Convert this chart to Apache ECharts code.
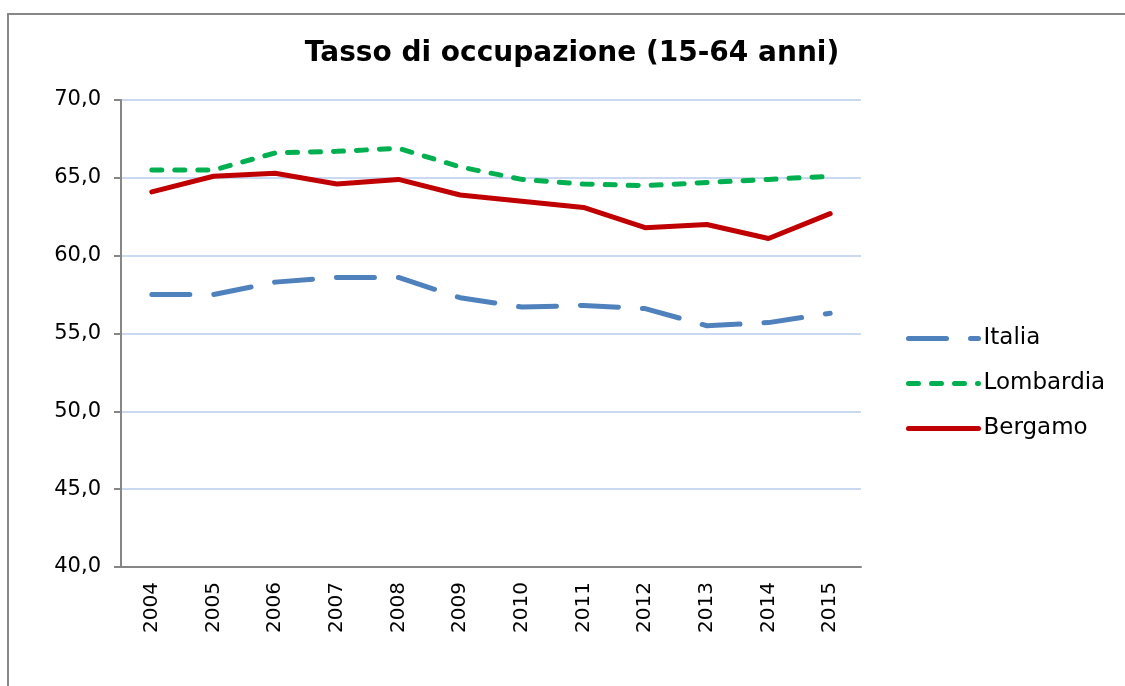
<!DOCTYPE html>
<html>
<head>
<meta charset="utf-8">
<title>Tasso di occupazione</title>
<script src="https://cdn.jsdelivr.net/npm/echarts@6/dist/echarts.min.js"></script>
<style>
  html, body { margin: 0; padding: 0; background: #fff; }
  #chart { width: 1125px; height: 686px; }
</style>
</head>
<body>
<div id="chart"></div>
<script>
var anni = ['2004', '2005', '2006', '2007', '2008', '2009', '2010', '2011', '2012', '2013', '2014', '2015'];
var italia = [57.5, 57.5, 58.3, 58.6, 58.6, 57.3, 56.7, 56.8, 56.6, 55.5, 55.7, 56.3];
var lombardia = [65.5, 65.5, 66.6, 66.7, 66.9, 65.7, 64.9, 64.6, 64.5, 64.7, 64.9, 65.1];
var bergamo = [64.1, 65.1, 65.3, 64.6, 64.9, 63.9, 63.5, 63.1, 61.8, 62.0, 61.1, 62.7];

var font = '"DejaVu Sans", Verdana, sans-serif';

var chart = echarts.init(document.getElementById('chart'));

function serie(nome, dati, colore, dash) {
    return {
        name: nome,
        type: 'line',
        data: dati,
        symbol: 'none',
        animation: false,
        lineStyle: {
            color: colore,
            width: 5,
            type: dash,
            cap: 'round'
        },
        itemStyle: { color: colore }
    };
}

var option = {
    backgroundColor: '#fff',
    textStyle: { fontFamily: font },
    graphic: [{
        type: 'rect',
        shape: { x: 8, y: 14, width: 1300, height: 900 },
        style: { fill: 'none', stroke: '#878787', lineWidth: 2 },
        silent: true
    }],
    title: {
        text: 'Tasso di occupazione (15-64 anni)',
        left: 567,
        top: 35,
        textAlign: 'center',
        textStyle: {
            fontFamily: font,
            fontSize: 28,
            fontWeight: 'bold',
            color: '#000'
        }
    },
    legend: {
        orient: 'vertical',
        left: 901,
        top: 322,
        itemWidth: 70,
        itemHeight: 23,
        itemGap: 22,
        itemStyle: { color: 'rgba(0,0,0,0)', borderWidth: 0, opacity: 0 },
        lineStyle: { width: 5, cap: 'round' },
        textStyle: {
            fontFamily: font,
            fontSize: 23,
            lineHeight: 23,
            color: '#000'
        },
        data: ['Italia', 'Lombardia', 'Bergamo']
    },
    grid: {
        left: 121,
        right: 264,
        top: 100,
        bottom: 119
    },
    xAxis: {
        type: 'category',
        data: anni,
        boundaryGap: true,
        axisLine: { lineStyle: { color: '#868686', width: 2 } },
        axisTick: { length: 7, lineStyle: { color: '#868686', width: 2 } },
        axisLabel: {
            rotate: 90,
            margin: 15,
            fontFamily: font,
            fontSize: 20,
            color: '#000'
        }
    },
    yAxis: {
        type: 'value',
        min: 40,
        max: 70,
        interval: 5,
        axisLine: { show: true, lineStyle: { color: '#868686', width: 2 } },
        axisTick: { show: true, length: 7, lineStyle: { color: '#868686', width: 2 } },
        splitLine: { lineStyle: { color: '#b9cbec', width: 1.5 } },
        axisLabel: {
            margin: 20,
            padding: [6, 0, 0, 0],
            fontFamily: font,
            fontSize: 21,
            color: '#000',
            formatter: function (v) { return v.toFixed(1).replace('.', ','); }
        }
    },
    series: [
        serie('Italia', italia, '#4f81bd', [38, 24]),
        serie('Lombardia', lombardia, '#00b050', [10, 13]),
        serie('Bergamo', bergamo, '#c00000', 'solid')
    ]
};

chart.setOption(option);
</script>
</body>
</html>
